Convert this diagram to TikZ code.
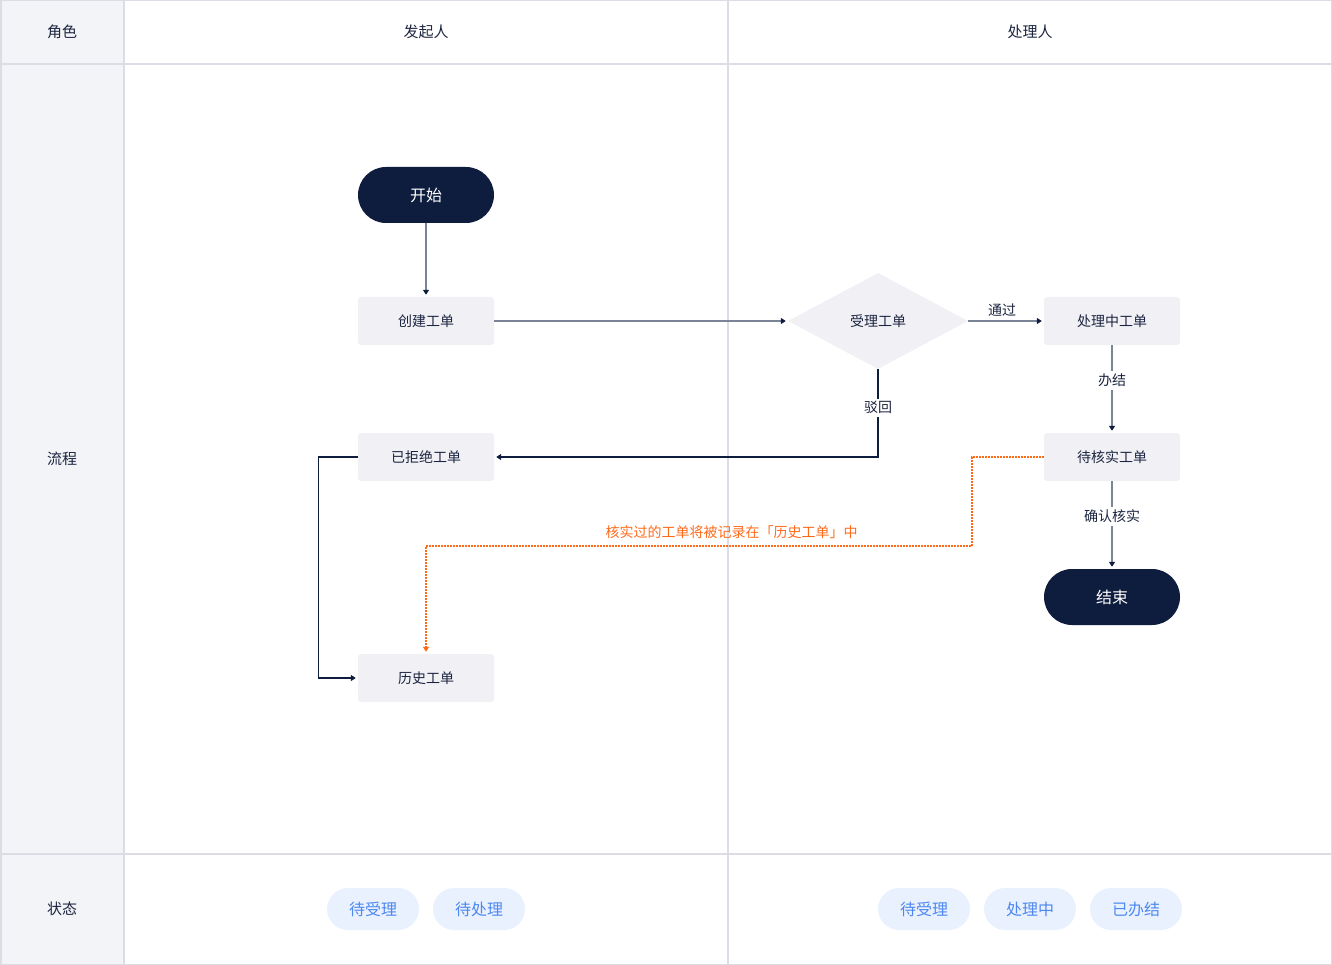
\documentclass[tikz,border=0pt]{standalone}
\usepackage{fontspec}
\setmainfont{Noto Sans CJK SC}
\usetikzlibrary{arrows.meta,shapes.geometric}
\definecolor{navy}{HTML}{0E1C3D}
\definecolor{ink}{HTML}{1C2540}
\definecolor{boxfill}{HTML}{F0F0F5}
\definecolor{gridline}{HTML}{DCDDE4}
\definecolor{sidefill}{HTML}{F3F4F7}
\definecolor{edgegray}{HTML}{7B8396}
\definecolor{notecolor}{HTML}{FF6A1A}
\definecolor{chipfill}{HTML}{EAF1FE}
\definecolor{chipblue}{HTML}{4D88F0}
\newcommand{\zhuangtai}[3]{\node[chip] (#1) at (#2,909) {#3};}

\begin{document}
\begin{tikzpicture}[x=1pt,y=-1pt,
    head/.style={text=ink,font=\fontsize{15}{17}\selectfont},
    task/.style={fill=boxfill,text=ink,minimum width=136pt,minimum height=48pt,inner sep=0pt,rounded corners=3pt,font=\fontsize{14}{16}\selectfont},
    term/.style={fill=navy,text=white,minimum width=136pt,minimum height=56pt,inner sep=0pt,rounded corners=28pt,font=\fontsize{16}{18}\selectfont},
    decide/.style={diamond,fill=boxfill,text=ink,minimum width=180pt,minimum height=96pt,inner sep=0pt,font=\fontsize{14}{16}\selectfont},
    chip/.style={fill=chipfill,text=chipblue,minimum width=92pt,minimum height=42pt,inner sep=0pt,rounded corners=21pt,font=\fontsize{16}{18}\selectfont},
    lbl/.style={fill=white,text=ink,inner sep=3pt,font=\fontsize{14}{16}\selectfont},
    flow/.style={draw=edgegray,line width=1.3pt,shorten >=2pt,-{Triangle[length=5pt,width=6pt,color=navy]}},
    flowdark/.style={flow,draw=navy},
    note/.style={draw=notecolor,line width=1.5pt,dash pattern=on 1.6pt off 1.4pt,shorten >=2pt,-{Triangle[length=5pt,width=6pt,color=notecolor]}}]
    \useasboundingbox (0,0) rectangle (1332,965);
    % table
    \fill[sidefill] (0,0) rectangle (124,965);
    \draw[gridline,line width=1.5pt] (0.75,0.75) rectangle (1331.25,964.25);
    \draw[gridline,line width=1.5pt] (0,64)--(1332,64) (0,854)--(1332,854) (124,0)--(124,965) (728,0)--(728,965);
    \node[head] (role) at (62,32) {角色};
    \node[head] (starter) at (426,32) {发起人};
    \node[head] (handler) at (1030,32) {处理人};
    \node[head] (process) at (62,459) {流程};
    \node[head] (state) at (62,909) {状态};
    % flow
    \node[term] (start) at (426,195) {开始};
    \node[task] (create) at (426,321) {创建工单};
    \node[decide] (accept) at (878,321) {受理工单};
    \node[task] (doing) at (1112,321) {处理中工单};
    \node[task] (verify) at (1112,457) {待核实工单};
    \node[term] (stop) at (1112,597) {结束};
    \node[task] (reject) at (426,457) {已拒绝工单};
    \node[task] (history) at (426,678) {历史工单};
    \draw[flow] (start) -- (create);
    \draw[flow] (create) -- (accept);
    \draw[flow] (accept) -- node[above=1pt,pos=0.45,text=ink,font=\fontsize{14}{16}\selectfont] {通过} (doing);
    \draw[flow] (doing) -- node[lbl,pos=0.4] {办结} (verify);
    \draw[flow] (verify) -- node[lbl,pos=0.4] {确认核实} (stop);
    \draw[flowdark] (accept.south) |- node[lbl,pos=0.22] {驳回} (reject.east);
    \draw[flowdark] (reject.west) -- ++(-39,0) |- (history.west);
    \draw[note] (verify.west) -- ++(-72,0) -- ++(0,89) -| node[pos=0.22,above=3pt,text=notecolor,font=\fontsize{14}{16}\selectfont] {核实过的工单将被记录在「历史工单」中} (history.north);
    % states
    \zhuangtai{waitA}{373}{待受理}
    \zhuangtai{waitB}{479}{待处理}
    \zhuangtai{waitC}{924}{待受理}
    \zhuangtai{busy}{1030}{处理中}
    \zhuangtai{done}{1136}{已办结}
\end{tikzpicture}
\end{document}
